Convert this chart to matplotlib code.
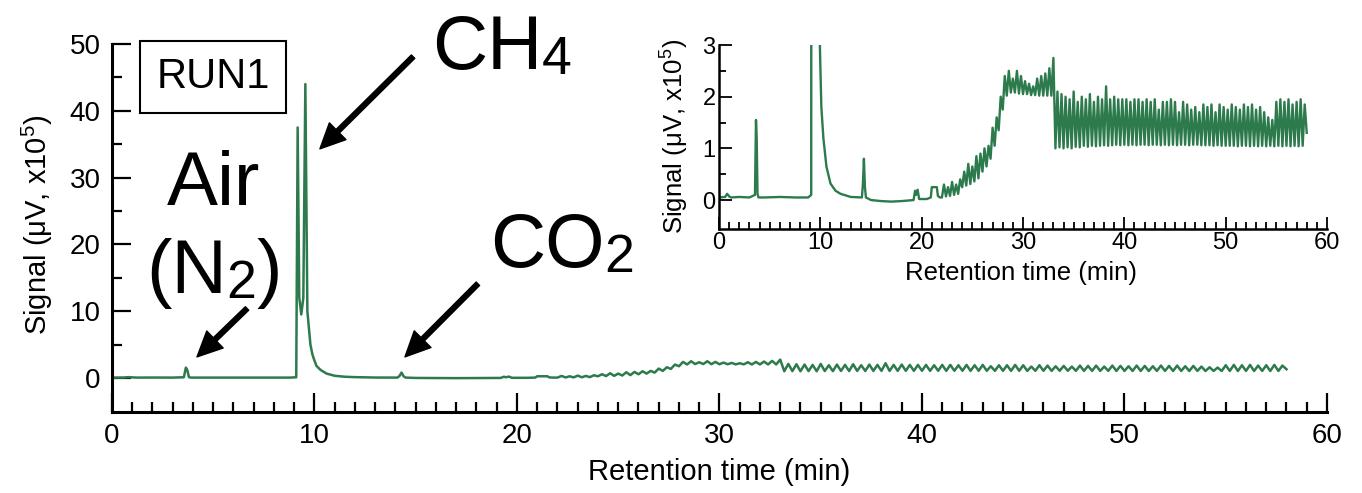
import numpy as np
import matplotlib
matplotlib.use('Agg')
import matplotlib.pyplot as plt
from matplotlib.ticker import MultipleLocator, FixedLocator
from matplotlib.transforms import IdentityTransform

plt.rcParams['font.family'] = ['Liberation Sans', 'DejaVu Sans']
plt.rcParams['mathtext.fontset'] = 'custom'
plt.rcParams['mathtext.rm'] = 'Liberation Sans'
plt.rcParams['mathtext.it'] = 'Liberation Sans:italic'
plt.rcParams['mathtext.bf'] = 'Liberation Sans:bold'
plt.rcParams['mathtext.default'] = 'regular'

# chromatogram, signal in uV x1e5
# first part: baseline and the three peaks (Air, CH4, CO2)
peak_time = [0.0, 0.6, 0.8, 0.9, 1.0, 1.2, 2.0, 3.0, 3.55, 3.65, 3.72, 3.8, 3.9,
             4.5, 6.0, 7.5, 8.8, 9.1, 9.17, 9.25, 9.35, 9.45, 9.55, 9.65, 9.8,
             9.9, 10.0, 10.1, 10.3, 10.6, 11.0, 11.5, 12.0, 13.0, 14.1, 14.2,
             14.3, 14.4, 14.5, 15.0, 16.0, 17.0, 18.0, 19.2, 19.35, 19.45, 19.6,
             19.75, 20.5, 20.9, 21.0, 21.5, 21.6, 21.8]
peak_signal = [0.05, 0.06, 0.12, 0.10, 0.07, 0.05, 0.06, 0.05, 0.10, 1.55, 1.20,
               0.12, 0.05, 0.05, 0.06, 0.05, 0.05, 0.10, 37.5, 12.0, 9.5, 12.0,
               44.0, 10.0, 5.0, 3.5, 2.6, 1.8, 1.2, 0.65, 0.32, 0.18, 0.12, 0.06,
               0.05, 0.30, 0.80, 0.25, 0.05, 0.0, -0.02, -0.03, -0.02, 0.0, 0.18,
               0.10, 0.20, 0.02, 0.02, 0.05, 0.25, 0.25, 0.08, 0.05]

# second part: baseline drift with the oscillating detector noise
wig_time = [22.0, 22.2, 22.4, 22.6, 22.8, 23.0, 23.2, 23.4, 23.6, 23.8,
            24.0, 24.2, 24.4, 24.6, 24.8, 25.0, 25.2, 25.4, 25.6, 25.8,
            26.0, 26.2, 26.4, 26.6, 26.8, 27.0, 27.2, 27.4, 27.6, 27.8,
            28.0, 28.2, 28.4, 28.6, 28.8, 29.0, 29.2, 29.4, 29.6, 29.8,
            30.0, 30.2, 30.4, 30.6, 30.8, 31.0, 31.2, 31.4, 31.6, 31.8,
            32.0, 32.2, 32.4, 32.6, 32.8, 33.0, 33.2, 33.4, 33.6, 33.8,
            34.0, 34.2, 34.4, 34.6, 34.8, 35.0, 35.2, 35.4, 35.6, 35.8,
            36.0, 36.2, 36.4, 36.6, 36.8, 37.0, 37.2, 37.4, 37.6, 37.8,
            38.0, 38.2, 38.4, 38.6, 38.8, 39.0, 39.2, 39.4, 39.6, 39.8,
            40.0, 40.2, 40.4, 40.6, 40.8, 41.0, 41.2, 41.4, 41.6, 41.8,
            42.0, 42.2, 42.4, 42.6, 42.8, 43.0, 43.2, 43.4, 43.6, 43.8,
            44.0, 44.2, 44.4, 44.6, 44.8, 45.0, 45.2, 45.4, 45.6, 45.8,
            46.0, 46.2, 46.4, 46.6, 46.8, 47.0, 47.2, 47.4, 47.6, 47.8,
            48.0, 48.2, 48.4, 48.6, 48.8, 49.0, 49.2, 49.4, 49.6, 49.8,
            50.0, 50.2, 50.4, 50.6, 50.8, 51.0, 51.2, 51.4, 51.6, 51.8,
            52.0, 52.2, 52.4, 52.6, 52.8, 53.0, 53.2, 53.4, 53.6, 53.8,
            54.0, 54.2, 54.4, 54.6, 54.8, 55.0, 55.2, 55.4, 55.6, 55.8,
            56.0, 56.2, 56.4, 56.6, 56.8, 57.0, 57.2, 57.4, 57.6, 57.8,
            58.0]
wig_signal = [0.05, 0.30, 0.07, 0.25, 0.08, 0.35, 0.10, 0.30, 0.12, 0.40,
              0.25, 0.55, 0.28, 0.70, 0.31, 0.65, 0.36, 0.85, 0.42, 0.90,
              0.55, 1.00, 0.65, 1.05, 0.80, 1.40, 1.05, 1.60, 1.35, 2.00,
              1.75, 2.40, 2.02, 2.50, 2.08, 2.35, 2.08, 2.50, 2.06, 2.40,
              2.05, 2.30, 2.05, 2.25, 2.03, 2.20, 2.03, 2.35, 2.02, 2.40,
              2.02, 2.45, 2.02, 2.55, 2.02, 2.75, 1.00, 2.10, 1.02, 2.05,
              1.00, 2.00, 1.02, 1.95, 1.00, 2.10, 1.03, 1.90, 1.02, 2.00,
              1.05, 1.95, 1.03, 2.05, 1.05, 1.90, 1.04, 2.00, 1.05, 1.95,
              1.06, 2.20, 1.05, 1.95, 1.06, 2.00, 1.07, 1.95, 1.06, 1.95,
              1.07, 1.95, 1.06, 1.90, 1.07, 1.95, 1.06, 1.95, 1.07, 1.90,
              1.07, 1.95, 1.06, 1.90, 1.07, 1.95, 1.07, 1.75, 1.06, 1.90,
              1.07, 1.90, 1.06, 1.95, 1.07, 1.90, 1.06, 1.70, 1.07, 1.90,
              1.07, 1.85, 1.06, 1.75, 1.07, 1.80, 1.07, 1.70, 1.06, 1.85,
              1.06, 1.80, 1.06, 1.85, 1.05, 1.70, 1.06, 1.85, 1.05, 1.80,
              1.05, 1.75, 1.05, 1.85, 1.05, 1.80, 1.04, 1.75, 1.05, 1.85,
              1.05, 1.80, 1.04, 1.85, 1.05, 1.75, 1.04, 1.80, 1.05, 1.70,
              1.04, 1.60, 1.05, 1.55, 1.04, 1.90, 1.05, 1.95, 1.04, 1.90,
              1.05, 1.95, 1.04, 1.85, 1.05, 1.90, 1.04, 1.95, 1.05, 1.85,
              1.30]

time = np.array(peak_time + wig_time)
signal = np.array(peak_signal + wig_signal)

green = '#2d7b4d'
ylabel = 'Signal (μV, x10$^5$)'
xlabel = 'Retention time (min)'

fig = plt.figure(figsize=(13.62, 4.93), dpi=100)
renderer = fig.canvas.get_renderer()


def style_axes(ax, spine_lw, major_len, minor_len, tick_w, labelsize, pad):
    ax.spines['top'].set_visible(False)
    ax.spines['right'].set_visible(False)
    ax.spines['left'].set_linewidth(spine_lw)
    ax.spines['bottom'].set_linewidth(spine_lw)
    ax.tick_params(which='major', direction='in', length=major_len, width=tick_w,
                   labelsize=labelsize, pad=pad)
    ax.tick_params(which='minor', direction='in', length=minor_len, width=tick_w)
    ax.xaxis.set_major_locator(MultipleLocator(10))
    ax.xaxis.set_minor_locator(MultipleLocator(1))


def formula(ax, x, y, parts, size=55, center=False):
    # write a chemical formula piece by piece, subscripts smaller and a bit lower
    x0, y0 = ax.transData.transform((x, y))
    texts = []
    cur = x0
    for s, sub in parts:
        fs = size * 0.7 if sub else size
        dy = -5 if sub else 0
        t = ax.text(cur, y0 + dy, s, fontsize=fs, ha='left', va='baseline',
                    transform=IdentityTransform(), clip_on=False)
        cur = t.get_window_extent(renderer=renderer).x1
        texts.append(t)
    if center:
        shift = (cur - x0) / 2
        for t in texts:
            px, py = t.get_position()
            t.set_position((px - shift, py))


# main chromatogram
ax1 = fig.add_axes([0.0822, 0.1643, 0.8921, 0.7465])
ax1.plot(time, signal, color=green, lw=1.8)
ax1.set_xlim(0, 60)
ax1.set_ylim(-5.1, 50)
style_axes(ax1, 2.2, 14, 7, 1.6, 20, 8)
ax1.yaxis.set_major_locator(MultipleLocator(10))
ax1.yaxis.set_minor_locator(FixedLocator([5, 15, 25, 35, 45]))
ax1.set_xlabel(xlabel, fontsize=21)
ax1.set_ylabel(ylabel, fontsize=21)
ax1.xaxis.set_label_coords(0.5, -0.125)
ax1.yaxis.set_label_coords(-0.047, 0.508)

# peak labels and arrows
arrow = dict(facecolor='black', edgecolor='black', width=3.5, headwidth=17,
             headlength=18, shrink=0)
ax1.annotate('', xy=(10.27, 34.3), xytext=(14.87, 48.1), arrowprops=arrow,
             annotation_clip=False)
ax1.annotate('', xy=(4.2, 3.15), xytext=(6.67, 10.4), arrowprops=arrow)
ax1.annotate('', xy=(14.47, 3.15), xytext=(18.07, 14.1), arrowprops=arrow)

formula(ax1, 15.8, 46.3, [('CH', False), ('4', True)])
formula(ax1, 18.67, 16.6, [('CO', False), ('2', True)])
formula(ax1, 5.04, 25.9, [('Air', False)], center=True)
formula(ax1, 5.04, 12.7, [('(N', False), ('2', True), (')', False)], center=True)
ax1.text(4.99, 45.1, 'RUN1', fontsize=30, ha='center', va='center',
         bbox=dict(boxstyle='square,pad=0.38', fc='white', ec='black', lw=1.5))

# inset, zoom on the baseline
ax2 = fig.add_axes([0.5279, 0.5355, 0.4464, 0.3732])
ax2.patch.set_alpha(0)
ax2.plot(time, signal, color=green, lw=1.7)
ax2.set_xlim(0, 60)
ax2.set_ylim(-0.56, 3)
style_axes(ax2, 1.8, 9, 5, 1.3, 17, 2.5)
ax2.yaxis.set_major_locator(MultipleLocator(1))
ax2.yaxis.set_minor_locator(FixedLocator([0.5, 1.5, 2.5]))
ax2.set_xlabel(xlabel, fontsize=18.5)
ax2.set_ylabel(ylabel, fontsize=18.5)
ax2.xaxis.set_label_coords(0.497, -0.174)
ax2.yaxis.set_label_coords(-0.046, 0.505)

fig.savefig('out.png', dpi=100)
